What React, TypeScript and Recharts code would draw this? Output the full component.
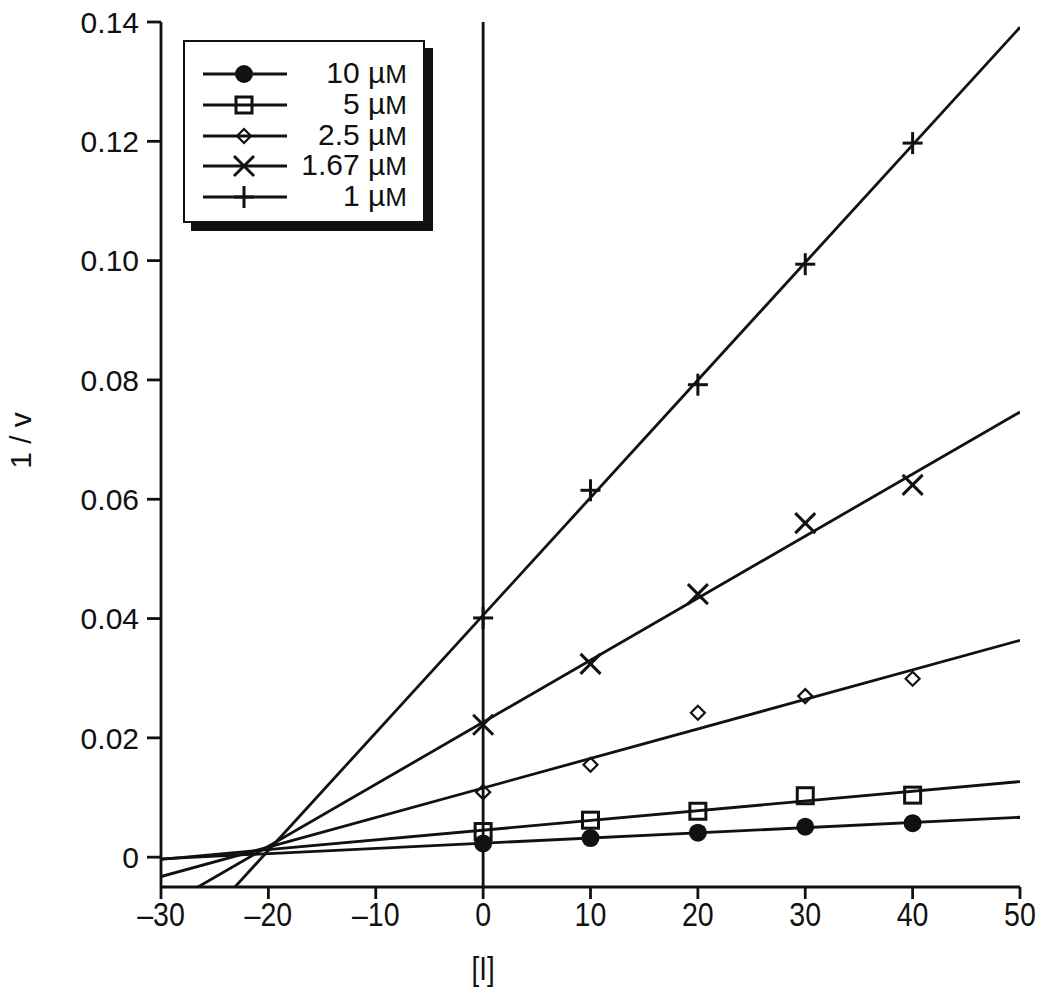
import { ComposedChart, Line, Scatter, XAxis, YAxis, ReferenceLine, Label } from "recharts";

// inhibitor concentration [I] and measured 1/v for each substrate concentration
const inhibitor = [0, 10, 20, 30, 40];
const rate10uM = [0.0023, 0.0032, 0.0041, 0.0051, 0.0057];
const rate5uM = [0.0043, 0.0062, 0.0077, 0.0103, 0.0104];
const rate2_5uM = [0.0109, 0.0155, 0.0242, 0.027, 0.0299];
const rate1_67uM = [0.0222, 0.0324, 0.0441, 0.056, 0.0624];
const rate1uM = [0.0401, 0.0615, 0.0792, 0.0994, 0.1197];

const seriesLabels = ["10 µM", "5 µM", "2.5 µM", "1.67 µM", "1 µM"];
const xTicks = [-30, -20, -10, 0, 10, 20, 30, 40, 50];
const yTicks = [0, 0.02, 0.04, 0.06, 0.08, 0.1, 0.12, 0.14];
const xRange = [-30, 50];

const INK = "#111";
const FONT = "'Liberation Sans', Arial, sans-serif";

type MarkerKind = "dot" | "square" | "diamond" | "cross" | "plus";
const markers: MarkerKind[] = ["dot", "square", "diamond", "cross", "plus"];
const allRates = [rate10uM, rate5uM, rate2_5uM, rate1_67uM, rate1uM];

// least squares straight line through the points, drawn across the whole x range
function fitLine(xs: number[], ys: number[]) {
  const n = xs.length;
  const mx = xs.reduce((a, b) => a + b, 0) / n;
  const my = ys.reduce((a, b) => a + b, 0) / n;
  let sxy = 0;
  let sxx = 0;
  xs.forEach((x, i) => {
    sxy += (x - mx) * (ys[i] - my);
    sxx += (x - mx) * (x - mx);
  });
  const slope = sxy / sxx;
  const icpt = my - slope * mx;
  return xRange.map((x) => ({ x, y: icpt + slope * x }));
}

function drawMarker(kind: MarkerKind, cx: number, cy: number) {
  const sw = 3;
  switch (kind) {
    case "dot":
      return <circle cx={cx} cy={cy} r={9} fill={INK} />;
    case "square":
      return <rect x={cx - 8} y={cy - 8} width={16} height={16} fill="none" stroke={INK} strokeWidth={sw} />;
    case "diamond":
      return (
        <polygon
          points={`${cx - 7},${cy} ${cx},${cy - 7} ${cx + 7},${cy} ${cx},${cy + 7}`}
          fill="none"
          stroke={INK}
          strokeWidth={2.2}
        />
      );
    case "cross":
      return (
        <g stroke={INK} strokeWidth={sw}>
          <line x1={cx - 10} y1={cy - 10} x2={cx + 10} y2={cy + 10} />
          <line x1={cx - 10} y1={cy + 10} x2={cx + 10} y2={cy - 10} />
        </g>
      );
    default:
      return (
        <g stroke={INK} strokeWidth={sw}>
          <line x1={cx - 10} y1={cy} x2={cx + 10} y2={cy} />
          <line x1={cx} y1={cy - 11} x2={cx} y2={cy + 11} />
        </g>
      );
  }
}

const markerShape = (kind: MarkerKind) => (props: any) => drawMarker(kind, props.cx, props.cy);

const fmtY = (v: number) => (v === 0 ? "0" : v.toFixed(2));
const fmtX = (v: number) => (v < 0 ? `–${Math.abs(v)}` : `${v}`);

// x labels in the original are a condensed face, squeeze the regular one
function XTick(props: any) {
  const { x, y, payload } = props;
  return (
    <g transform={`translate(${x},${y})`}>
      <text transform="scale(0.84,1)" textAnchor="middle" dy="0.71em" fontFamily={FONT} fontSize={34} fill={INK}>
        {fmtX(payload.value)}
      </text>
    </g>
  );
}

function XTitle(props: any) {
  const vb = props.viewBox;
  const x = vb.x + (vb.width * 30) / 80;
  return (
    <g transform={`translate(${x},${vb.y + 93})`}>
      <text transform="scale(0.84,1)" textAnchor="middle" fontFamily={FONT} fontSize={33} fill={INK}>
        [I]
      </text>
    </g>
  );
}

function YTitle(props: any) {
  const vb = props.viewBox;
  const x = 31;
  const y = vb.y + vb.height / 2 - 14;
  return (
    <text x={x} y={y} transform={`rotate(-90, ${x}, ${y})`} textAnchor="middle" fontFamily={FONT} fontSize={30} fill={INK}>
      1 / v
    </text>
  );
}

function LegendBox() {
  return (
    <div
      style={{
        position: "absolute",
        left: 183,
        top: 40,
        width: 238,
        height: 179,
        border: `2.5px solid ${INK}`,
        boxShadow: `8px 8px 0 ${INK}`,
        background: "#fff",
      }}
    >
      {seriesLabels.map((label, i) => {
        const [num, unit] = label.split(" ");
        return (
          <div key={label} style={{ position: "absolute", left: 0, top: 17 + i * 30.8, width: 238, height: 30 }}>
            <svg width={110} height={30} style={{ position: "absolute", left: 0, top: 0 }}>
              <line x1={18} y1={15} x2={102} y2={15} stroke={INK} strokeWidth={2.8} />
              {drawMarker(markers[i], 59, 15)}
            </svg>
            <div
              style={{
                position: "absolute",
                right: 16,
                top: -3,
                fontFamily: FONT,
                fontSize: 30,
                lineHeight: "34px",
                color: INK,
                whiteSpace: "nowrap",
              }}
            >
              {num} {unit.slice(0, 1)}
              <span style={{ fontSize: 26 }}>{unit.slice(1)}</span>
            </div>
          </div>
        );
      })}
    </div>
  );
}

export default function App() {
  const points = allRates.map((rates) => inhibitor.map((x, i) => ({ x, y: rates[i] })));
  const fits = allRates.map((rates) => fitLine(inhibitor, rates));

  return (
    <div style={{ position: "absolute", left: 0, top: 0, width: 1050, height: 998, background: "#fff" }}>
      <ComposedChart width={1050} height={998} margin={{ top: 22, right: 30, bottom: 11, left: 10 }}>
        <XAxis
          type="number"
          dataKey="x"
          domain={[-30, 50]}
          ticks={xTicks}
          tick={<XTick />}
          allowDataOverflow
          height={100}
          tickSize={12}
          tickMargin={3}
          axisLine={{ stroke: INK, strokeWidth: 2.8 }}
          tickLine={{ stroke: INK, strokeWidth: 2.8 }}
        >
          <Label content={<XTitle />} />
        </XAxis>
        <YAxis
          type="number"
          dataKey="y"
          domain={[-0.005, 0.14]}
          ticks={yTicks}
          tickFormatter={fmtY}
          allowDataOverflow
          width={151}
          tickSize={14}
          tickMargin={8}
          axisLine={{ stroke: INK, strokeWidth: 2.8 }}
          tickLine={{ stroke: INK, strokeWidth: 2.8 }}
          tick={{ fill: INK, fontFamily: FONT, fontSize: 30 }}
        >
          <Label content={<YTitle />} />
        </YAxis>
        <ReferenceLine x={0} stroke={INK} strokeWidth={2.8} />
        {fits.map((fit, i) => (
          <Line
            key={`fit-${i}`}
            data={fit}
            dataKey="y"
            stroke={INK}
            strokeWidth={2.8}
            dot={false}
            activeDot={false}
            isAnimationActive={false}
          />
        ))}
        {points.map((pts, i) => (
          <Scatter key={`pts-${i}`} data={pts} shape={markerShape(markers[i])} isAnimationActive={false} />
        ))}
      </ComposedChart>
      <LegendBox />
    </div>
  );
}
